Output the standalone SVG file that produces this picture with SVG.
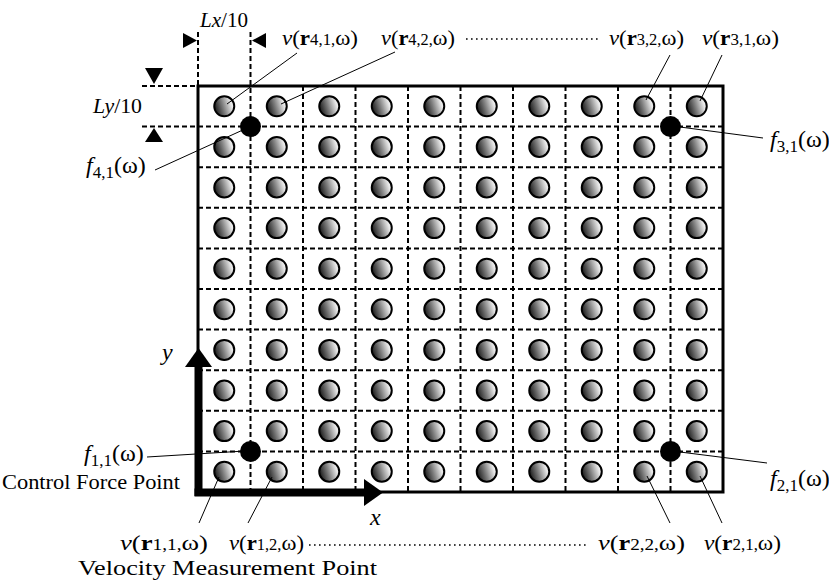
<svg xmlns="http://www.w3.org/2000/svg" xmlns:xlink="http://www.w3.org/1999/xlink" width="829" height="580" viewBox="0 0 829 580">
<style>
  text { font-family: "Liberation Serif", "Times New Roman", serif; fill: #000; }
  .lbl { font-size: 22px; }
  .flbl { font-size: 24px; }
  .it { font-style: italic; }
  .bd { font-weight: bold; }
  .sm { font-size: 16px; }
  .fsm { font-size: 17px; }
  .grid { stroke: #000; stroke-width: 2; stroke-dasharray: 5 3; fill: none; }
  .leader { stroke: #000; stroke-width: 1; fill: none; }
  .dots { stroke: #000; stroke-width: 1.6; stroke-dasharray: 1.6 3.4; fill: none; }
  .mp { fill: url(#ballGrad); stroke: #000; stroke-width: 2; }
  .fp { fill: #000; }
</style>
<defs>
  <linearGradient id="ballGrad" x1="0" y1="0.3" x2="1" y2="0">
    <stop offset="0" stop-color="#2a2a2a"/>
    <stop offset="0.35" stop-color="#808080"/>
    <stop offset="0.75" stop-color="#e8e8e8"/>
    <stop offset="1" stop-color="#ffffff"/>
  </linearGradient>
  <circle id="ball" r="10" class="mp"/>
</defs>
<rect width="829" height="580" fill="#fff"/>

<g id="plate">
  <rect x="198" y="86" width="525" height="406" fill="none" stroke="#000" stroke-width="3"/>
</g>

<g id="grid">
  <line class="grid" x1="250.5" y1="32" x2="250.5" y2="492"/>
  <line class="grid" x1="303" y1="86" x2="303" y2="492"/>
  <line class="grid" x1="355.5" y1="86" x2="355.5" y2="492"/>
  <line class="grid" x1="408" y1="86" x2="408" y2="492"/>
  <line class="grid" x1="460.5" y1="86" x2="460.5" y2="492"/>
  <line class="grid" x1="513" y1="86" x2="513" y2="492"/>
  <line class="grid" x1="565.5" y1="86" x2="565.5" y2="492"/>
  <line class="grid" x1="618" y1="86" x2="618" y2="492"/>
  <line class="grid" x1="670.5" y1="86" x2="670.5" y2="492"/>
  <line class="grid" x1="198" y1="32" x2="198" y2="86"/>
  <line class="grid" x1="142" y1="126.6" x2="723" y2="126.6"/>
  <line class="grid" x1="198" y1="167.2" x2="723" y2="167.2"/>
  <line class="grid" x1="198" y1="207.8" x2="723" y2="207.8"/>
  <line class="grid" x1="198" y1="248.4" x2="723" y2="248.4"/>
  <line class="grid" x1="198" y1="289" x2="723" y2="289"/>
  <line class="grid" x1="198" y1="329.6" x2="723" y2="329.6"/>
  <line class="grid" x1="198" y1="370.2" x2="723" y2="370.2"/>
  <line class="grid" x1="198" y1="410.8" x2="723" y2="410.8"/>
  <line class="grid" x1="198" y1="451.4" x2="723" y2="451.4"/>
  <line class="grid" x1="142" y1="86" x2="198" y2="86"/>
</g>

<g id="dimensions">
  <polygon points="183,33 183,48 197,40.5" fill="#000"/>
  <polygon points="266,33 266,48 252,40.5" fill="#000"/>
  <polygon points="145,68 163,68 154,84" fill="#000"/>
  <polygon points="145,142 163,142 154,128" fill="#000"/>
  <text class="lbl" x="200" y="27" textLength="48" lengthAdjust="spacingAndGlyphs"><tspan class="it">Lx</tspan>/10</text>
  <text class="lbl" x="93" y="113" textLength="49" lengthAdjust="spacingAndGlyphs"><tspan class="it">Ly</tspan>/10</text>
</g>

<g id="measurement-points">
  <use id="m-1-10" xlink:href="#ball" x="224.25" y="106.3"/><use id="m-2-10" xlink:href="#ball" x="276.75" y="106.3"/><use id="m-3-10" xlink:href="#ball" x="329.25" y="106.3"/><use id="m-4-10" xlink:href="#ball" x="381.75" y="106.3"/><use id="m-5-10" xlink:href="#ball" x="434.25" y="106.3"/><use id="m-6-10" xlink:href="#ball" x="486.75" y="106.3"/><use id="m-7-10" xlink:href="#ball" x="539.25" y="106.3"/><use id="m-8-10" xlink:href="#ball" x="591.75" y="106.3"/><use id="m-9-10" xlink:href="#ball" x="644.25" y="106.3"/><use id="m-10-10" xlink:href="#ball" x="696.75" y="106.3"/>
  <use id="m-1-9" xlink:href="#ball" x="224.25" y="146.9"/><use id="m-2-9" xlink:href="#ball" x="276.75" y="146.9"/><use id="m-3-9" xlink:href="#ball" x="329.25" y="146.9"/><use id="m-4-9" xlink:href="#ball" x="381.75" y="146.9"/><use id="m-5-9" xlink:href="#ball" x="434.25" y="146.9"/><use id="m-6-9" xlink:href="#ball" x="486.75" y="146.9"/><use id="m-7-9" xlink:href="#ball" x="539.25" y="146.9"/><use id="m-8-9" xlink:href="#ball" x="591.75" y="146.9"/><use id="m-9-9" xlink:href="#ball" x="644.25" y="146.9"/><use id="m-10-9" xlink:href="#ball" x="696.75" y="146.9"/>
  <use id="m-1-8" xlink:href="#ball" x="224.25" y="187.5"/><use id="m-2-8" xlink:href="#ball" x="276.75" y="187.5"/><use id="m-3-8" xlink:href="#ball" x="329.25" y="187.5"/><use id="m-4-8" xlink:href="#ball" x="381.75" y="187.5"/><use id="m-5-8" xlink:href="#ball" x="434.25" y="187.5"/><use id="m-6-8" xlink:href="#ball" x="486.75" y="187.5"/><use id="m-7-8" xlink:href="#ball" x="539.25" y="187.5"/><use id="m-8-8" xlink:href="#ball" x="591.75" y="187.5"/><use id="m-9-8" xlink:href="#ball" x="644.25" y="187.5"/><use id="m-10-8" xlink:href="#ball" x="696.75" y="187.5"/>
  <use id="m-1-7" xlink:href="#ball" x="224.25" y="228.1"/><use id="m-2-7" xlink:href="#ball" x="276.75" y="228.1"/><use id="m-3-7" xlink:href="#ball" x="329.25" y="228.1"/><use id="m-4-7" xlink:href="#ball" x="381.75" y="228.1"/><use id="m-5-7" xlink:href="#ball" x="434.25" y="228.1"/><use id="m-6-7" xlink:href="#ball" x="486.75" y="228.1"/><use id="m-7-7" xlink:href="#ball" x="539.25" y="228.1"/><use id="m-8-7" xlink:href="#ball" x="591.75" y="228.1"/><use id="m-9-7" xlink:href="#ball" x="644.25" y="228.1"/><use id="m-10-7" xlink:href="#ball" x="696.75" y="228.1"/>
  <use id="m-1-6" xlink:href="#ball" x="224.25" y="268.7"/><use id="m-2-6" xlink:href="#ball" x="276.75" y="268.7"/><use id="m-3-6" xlink:href="#ball" x="329.25" y="268.7"/><use id="m-4-6" xlink:href="#ball" x="381.75" y="268.7"/><use id="m-5-6" xlink:href="#ball" x="434.25" y="268.7"/><use id="m-6-6" xlink:href="#ball" x="486.75" y="268.7"/><use id="m-7-6" xlink:href="#ball" x="539.25" y="268.7"/><use id="m-8-6" xlink:href="#ball" x="591.75" y="268.7"/><use id="m-9-6" xlink:href="#ball" x="644.25" y="268.7"/><use id="m-10-6" xlink:href="#ball" x="696.75" y="268.7"/>
  <use id="m-1-5" xlink:href="#ball" x="224.25" y="309.3"/><use id="m-2-5" xlink:href="#ball" x="276.75" y="309.3"/><use id="m-3-5" xlink:href="#ball" x="329.25" y="309.3"/><use id="m-4-5" xlink:href="#ball" x="381.75" y="309.3"/><use id="m-5-5" xlink:href="#ball" x="434.25" y="309.3"/><use id="m-6-5" xlink:href="#ball" x="486.75" y="309.3"/><use id="m-7-5" xlink:href="#ball" x="539.25" y="309.3"/><use id="m-8-5" xlink:href="#ball" x="591.75" y="309.3"/><use id="m-9-5" xlink:href="#ball" x="644.25" y="309.3"/><use id="m-10-5" xlink:href="#ball" x="696.75" y="309.3"/>
  <use id="m-1-4" xlink:href="#ball" x="224.25" y="349.9"/><use id="m-2-4" xlink:href="#ball" x="276.75" y="349.9"/><use id="m-3-4" xlink:href="#ball" x="329.25" y="349.9"/><use id="m-4-4" xlink:href="#ball" x="381.75" y="349.9"/><use id="m-5-4" xlink:href="#ball" x="434.25" y="349.9"/><use id="m-6-4" xlink:href="#ball" x="486.75" y="349.9"/><use id="m-7-4" xlink:href="#ball" x="539.25" y="349.9"/><use id="m-8-4" xlink:href="#ball" x="591.75" y="349.9"/><use id="m-9-4" xlink:href="#ball" x="644.25" y="349.9"/><use id="m-10-4" xlink:href="#ball" x="696.75" y="349.9"/>
  <use id="m-1-3" xlink:href="#ball" x="224.25" y="390.5"/><use id="m-2-3" xlink:href="#ball" x="276.75" y="390.5"/><use id="m-3-3" xlink:href="#ball" x="329.25" y="390.5"/><use id="m-4-3" xlink:href="#ball" x="381.75" y="390.5"/><use id="m-5-3" xlink:href="#ball" x="434.25" y="390.5"/><use id="m-6-3" xlink:href="#ball" x="486.75" y="390.5"/><use id="m-7-3" xlink:href="#ball" x="539.25" y="390.5"/><use id="m-8-3" xlink:href="#ball" x="591.75" y="390.5"/><use id="m-9-3" xlink:href="#ball" x="644.25" y="390.5"/><use id="m-10-3" xlink:href="#ball" x="696.75" y="390.5"/>
  <use id="m-1-2" xlink:href="#ball" x="224.25" y="431.1"/><use id="m-2-2" xlink:href="#ball" x="276.75" y="431.1"/><use id="m-3-2" xlink:href="#ball" x="329.25" y="431.1"/><use id="m-4-2" xlink:href="#ball" x="381.75" y="431.1"/><use id="m-5-2" xlink:href="#ball" x="434.25" y="431.1"/><use id="m-6-2" xlink:href="#ball" x="486.75" y="431.1"/><use id="m-7-2" xlink:href="#ball" x="539.25" y="431.1"/><use id="m-8-2" xlink:href="#ball" x="591.75" y="431.1"/><use id="m-9-2" xlink:href="#ball" x="644.25" y="431.1"/><use id="m-10-2" xlink:href="#ball" x="696.75" y="431.1"/>
  <use id="m-1-1" xlink:href="#ball" x="224.25" y="471.7"/><use id="m-2-1" xlink:href="#ball" x="276.75" y="471.7"/><use id="m-3-1" xlink:href="#ball" x="329.25" y="471.7"/><use id="m-4-1" xlink:href="#ball" x="381.75" y="471.7"/><use id="m-5-1" xlink:href="#ball" x="434.25" y="471.7"/><use id="m-6-1" xlink:href="#ball" x="486.75" y="471.7"/><use id="m-7-1" xlink:href="#ball" x="539.25" y="471.7"/><use id="m-8-1" xlink:href="#ball" x="591.75" y="471.7"/><use id="m-9-1" xlink:href="#ball" x="644.25" y="471.7"/><use id="m-10-1" xlink:href="#ball" x="696.75" y="471.7"/>
</g>

<g id="force-f41"><circle class="fp" cx="250.5" cy="126.6" r="10.5"/></g>
<g id="force-f31"><circle class="fp" cx="670.5" cy="126.6" r="10.5"/></g>
<g id="force-f11"><circle class="fp" cx="250.5" cy="451.4" r="10.5"/></g>
<g id="force-f21"><circle class="fp" cx="670.5" cy="451.4" r="10.5"/></g>

<g id="axes">
  <line x1="198.5" y1="496" x2="198.5" y2="366" stroke="#000" stroke-width="8"/>
  <polygon points="185,367 212,367 198.5,348" fill="#000"/>
  <line x1="194.5" y1="492.5" x2="366" y2="492.5" stroke="#000" stroke-width="8"/>
  <polygon points="364,479 364,506 383,492.5" fill="#000"/>
  <text class="flbl it" x="370" y="525">x</text>
  <text class="flbl it" x="162" y="360">y</text>
</g>

<g id="connectors">
  <line class="leader" x1="297" y1="53" x2="227" y2="104"/>
  <line class="leader" x1="395" y1="52" x2="281" y2="104"/>
  <line class="leader" x1="670" y1="55" x2="646" y2="100"/>
  <line class="leader" x1="722" y1="55" x2="700" y2="101"/>
  <line class="leader" x1="199" y1="523" x2="219" y2="477"/>
  <line class="leader" x1="248" y1="523" x2="272" y2="477"/>
  <line class="leader" x1="670" y1="523" x2="647" y2="476"/>
  <line class="leader" x1="722" y1="523" x2="700" y2="476"/>
  <line class="leader" x1="155" y1="170" x2="245" y2="129"/>
  <line class="leader" x1="680" y1="127" x2="763" y2="138"/>
  <line class="leader" x1="147" y1="457" x2="245" y2="451"/>
  <line class="leader" x1="680" y1="452" x2="767" y2="463"/>
  <line class="dots" x1="466" y1="39" x2="598" y2="39"/>
  <line class="dots" x1="309" y1="545" x2="588" y2="545"/>
</g>

<g id="labels">
  <text class="lbl" x="282" y="45" textLength="76" lengthAdjust="spacingAndGlyphs"><tspan class="it">v</tspan>(<tspan class="bd">r</tspan><tspan class="sm">4,1,</tspan>ω)</text>
  <text class="lbl" x="381" y="45" textLength="74" lengthAdjust="spacingAndGlyphs"><tspan class="it">v</tspan>(<tspan class="bd">r</tspan><tspan class="sm">4,2,</tspan>ω)</text>
  <text class="lbl" x="609" y="45" textLength="75" lengthAdjust="spacingAndGlyphs"><tspan class="it">v</tspan>(<tspan class="bd">r</tspan><tspan class="sm">3,2,</tspan>ω)</text>
  <text class="lbl" x="702" y="45" textLength="77" lengthAdjust="spacingAndGlyphs"><tspan class="it">v</tspan>(<tspan class="bd">r</tspan><tspan class="sm">3,1,</tspan>ω)</text>
  <text class="lbl" x="120" y="550" textLength="88" lengthAdjust="spacingAndGlyphs"><tspan class="it">v</tspan>(<tspan class="bd">r</tspan><tspan class="sm">1,1,</tspan>ω)</text>
  <text class="lbl" x="229" y="550" textLength="75" lengthAdjust="spacingAndGlyphs"><tspan class="it">v</tspan>(<tspan class="bd">r</tspan><tspan class="sm">1,2,</tspan>ω)</text>
  <text class="lbl" x="598" y="550" textLength="87" lengthAdjust="spacingAndGlyphs"><tspan class="it">v</tspan>(<tspan class="bd">r</tspan><tspan class="sm">2,2,</tspan>ω)</text>
  <text class="lbl" x="704" y="550" textLength="77" lengthAdjust="spacingAndGlyphs"><tspan class="it">v</tspan>(<tspan class="bd">r</tspan><tspan class="sm">2,1,</tspan>ω)</text>
  <text class="flbl" x="86" y="173"><tspan class="it">f</tspan><tspan class="fsm" dy="5">4,1</tspan><tspan dy="-5">(ω)</tspan></text>
  <text class="flbl" x="770" y="147"><tspan class="it">f</tspan><tspan class="fsm" dy="5">3,1</tspan><tspan dy="-5">(ω)</tspan></text>
  <text class="flbl" x="84" y="461"><tspan class="it">f</tspan><tspan class="fsm" dy="5">1,1</tspan><tspan dy="-5">(ω)</tspan></text>
  <text class="flbl" x="770" y="486"><tspan class="it">f</tspan><tspan class="fsm" dy="5">2,1</tspan><tspan dy="-5">(ω)</tspan></text>
  <text class="lbl" x="2" y="489" textLength="178" lengthAdjust="spacingAndGlyphs">Control Force Point</text>
  <text class="lbl" x="78" y="575" textLength="299" lengthAdjust="spacingAndGlyphs">Velocity Measurement Point</text>
</g>
</svg>
